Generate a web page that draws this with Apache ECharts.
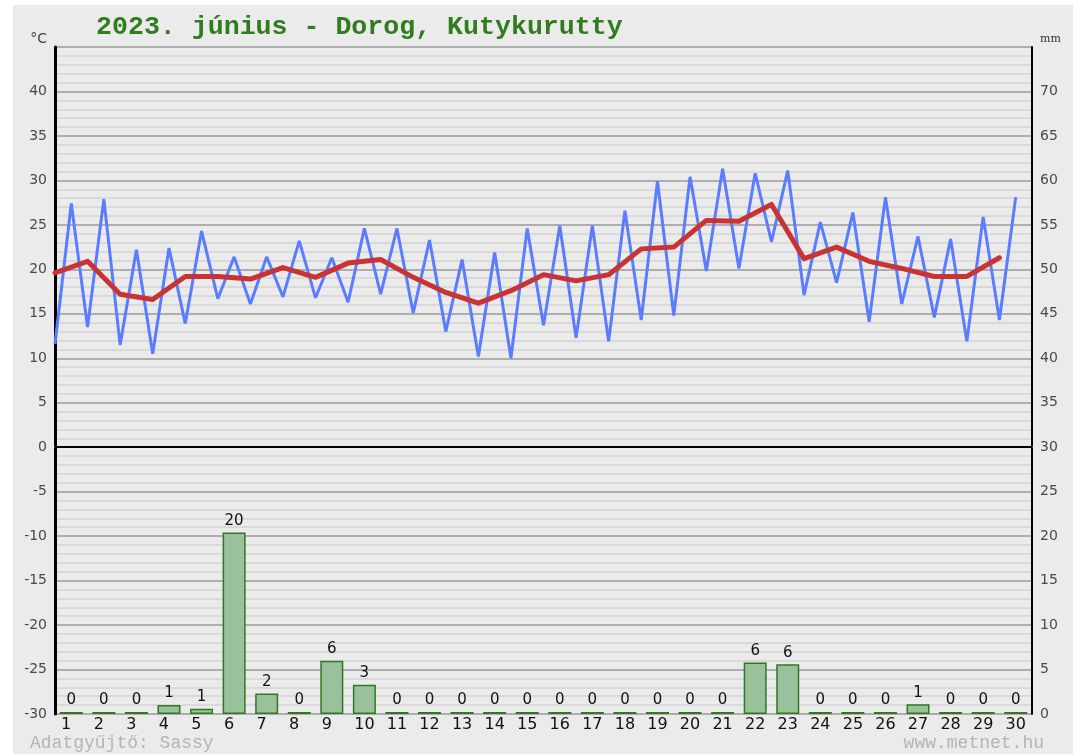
<!DOCTYPE html>
<html>
<head>
<meta charset="utf-8">
<title>2023. június - Dorog, Kutykurutty</title>
<script src="https://cdn.jsdelivr.net/npm/echarts@6.0.0/dist/echarts.min.js"></script>
<style>
  html, body { margin: 0; padding: 0; background: #fff; }
  #chart { width: 1073px; height: 754px; }
</style>
</head>
<body>
<div id="chart"></div>
<script>
// napok (x tengely)
const days = ['1', '2', '3', '4', '5', '6', '7', '8', '9', '10',
  '11', '12', '13', '14', '15', '16', '17', '18', '19', '20',
  '21', '22', '23', '24', '25', '26', '27', '28', '29', '30'];

// napi minimum / maximum hőmérséklet (°C)
const tMin = [11.6, 13.5, 11.5, 10.5, 13.9, 16.7, 16.1, 16.9, 16.8, 16.3,
  17.2, 15.1, 13.0, 10.2, 10.0, 13.7, 12.3, 11.9, 14.3, 14.8,
  19.8, 20.1, 23.1, 17.1, 18.5, 14.1, 16.1, 14.6, 11.9, 14.3];
const tMax = [27.4, 27.9, 22.2, 22.4, 24.3, 21.4, 21.4, 23.2, 21.3, 24.6,
  24.6, 23.3, 21.1, 21.9, 24.6, 24.9, 24.9, 26.6, 29.9, 30.4,
  31.3, 30.8, 31.1, 25.3, 26.4, 28.1, 23.7, 23.4, 25.9, 28.1];

// napi középhőmérséklet (°C)
const tAvg = [19.6, 20.9, 17.2, 16.6, 19.2, 19.2, 18.9, 20.2, 19.1, 20.7,
  21.1, 19.1, 17.4, 16.2, 17.6, 19.4, 18.7, 19.4, 22.3, 22.5,
  25.5, 25.4, 27.3, 21.2, 22.5, 20.9, 20.1, 19.2, 19.2, 21.3];

// csapadék (mm)
const rain = [0, 0, 0, 1.0, 0.6, 20.4, 2.3, 0, 6.0, 3.3,
  0, 0, 0, 0, 0, 0, 0, 0, 0, 0,
  0, 5.8, 5.6, 0, 0, 0, 1.1, 0, 0, 0];

// min a nap elején, max a nap közepén
const tempZigzag = [];
tMin.forEach((v, i) => {
  tempZigzag.push([i, v]);
  tempZigzag.push([i + 0.5, tMax[i]]);
});
const avgLine = tAvg.map((v, i) => [i, v]);

const chart = echarts.init(document.getElementById('chart'));
chart.setOption({
  backgroundColor: '#fff',
  animation: false,
  title: {
    text: '2023. június - Dorog, Kutykurutty',
    left: 96,
    top: 14,
    padding: 0,
    textStyle: {
      fontFamily: 'Liberation Mono',
      fontWeight: 'bold',
      fontSize: 26.6,
      color: '#2f7d1f',
    },
  },
  graphic: [
    {
      type: 'rect',
      z: -10,
      silent: true,
      shape: { x: 13, y: 5, width: 1060, height: 749 },
      style: { fill: '#ebebeb' },
    },
    {
      type: 'text',
      left: 30,
      top: 734,
      silent: true,
      style: {
        text: 'Adatgyűjtő: Sassy',
        font: '18px "Liberation Mono"',
        fill: '#b4b4b4',
      },
    },
    {
      type: 'text',
      right: 29,
      top: 734,
      silent: true,
      style: {
        text: 'www.metnet.hu',
        font: '18px "Liberation Mono"',
        fill: '#b4b4b4',
      },
    },
  ],
  grid: {
    left: 55,
    right: 41,
    top: 47,
    bottom: 40,
  },
  xAxis: [
    {
      type: 'category',
      data: days,
      boundaryGap: true,
      axisTick: { show: false },
      axisLine: { show: true, lineStyle: { color: '#9a9a9a', width: 1.5 } },
      axisLabel: {
        fontFamily: 'DejaVu Sans',
        fontSize: 16,
        color: '#111',
        margin: 3,
        interval: 0,
        // egyjegyű napok kicsit balra tolva, mint az eredetin
        formatter: (v) => (v.length < 2 ? v + '\u2007' : v),
      },
    },
    {
      type: 'value',
      min: 0,
      max: 30,
      show: false,
    },
  ],
  yAxis: [
    {
      type: 'value',
      min: -30,
      max: 45,
      interval: 5,
      name: '°C',
      nameLocation: 'end',
      nameGap: 1,
      nameTextStyle: {
        fontFamily: 'DejaVu Sans',
        fontSize: 14,
        color: '#444',
        align: 'right',
        padding: [0, 8, 0, 0],
      },
      axisLine: { show: true, lineStyle: { color: '#000', width: 3 } },
      axisTick: { show: false },
      axisLabel: {
        showMaxLabel: false,
        fontFamily: 'DejaVu Sans',
        fontSize: 14,
        color: '#4a4a4a',
        margin: 8,
      },
      splitLine: { show: true, lineStyle: { color: '#9a9a9a', width: 1.5 } },
      minorTick: { show: false, splitNumber: 5 },
      minorSplitLine: { show: true, lineStyle: { color: '#d9d9d9', width: 2 } },
    },
    {
      type: 'value',
      min: 0,
      max: 75,
      interval: 5,
      name: 'mm',
      nameLocation: 'end',
      nameGap: 2,
      nameTextStyle: {
        fontFamily: 'DejaVu Serif',
        fontSize: 11,
        color: '#333',
        align: 'left',
        padding: [0, 0, 0, 8],
      },
      axisLine: { show: true, lineStyle: { color: '#000', width: 2 } },
      axisTick: { show: false },
      axisLabel: {
        showMaxLabel: false,
        fontFamily: 'DejaVu Sans',
        fontSize: 14,
        color: '#4a4a4a',
        margin: 8,
      },
      splitLine: { show: false },
    },
  ],
  series: [
    {
      name: 'Csapadék',
      type: 'bar',
      xAxisIndex: 0,
      yAxisIndex: 1,
      data: rain,
      barWidth: 23,
      barMinHeight: 2,
      itemStyle: {
        color: '#99c19b',
        borderColor: '#2f7a1c',
        borderWidth: 1.5,
      },
      label: {
        show: true,
        position: 'top',
        distance: 4,
        fontFamily: 'DejaVu Sans',
        fontSize: 15,
        color: '#111',
        formatter: (p) => Math.round(p.value),
      },
    },
    {
      name: 'Min/Max',
      type: 'line',
      xAxisIndex: 1,
      yAxisIndex: 0,
      data: tempZigzag,
      showSymbol: false,
      lineStyle: { color: '#5a7dff', width: 3 },
      z: 3,
    },
    {
      name: 'Átlag',
      type: 'line',
      xAxisIndex: 1,
      yAxisIndex: 0,
      data: avgLine,
      showSymbol: false,
      lineStyle: { color: '#c83434', width: 5, join: 'round', cap: 'round' },
      z: 4,
      // 0 °C vonal
      markLine: {
        silent: true,
        symbol: 'none',
        label: { show: false },
        lineStyle: { color: '#000', width: 2, type: 'solid' },
        data: [{ yAxis: 0 }],
      },
    },
  ],
});
</script>
</body>
</html>
